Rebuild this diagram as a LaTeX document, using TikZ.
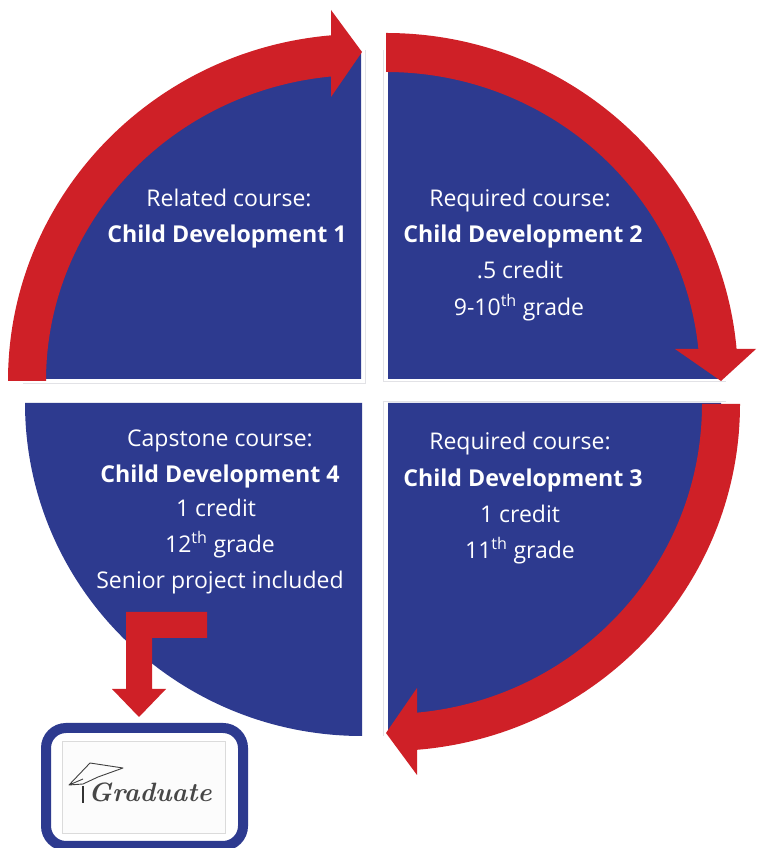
\documentclass[tikz,border=0pt]{standalone}
\usepackage{fontspec}
\setmainfont{Open Sans}
\newfontfamily\gradfont{Latin Modern Roman}
\definecolor{qblue}{RGB}{45,58,143}
\definecolor{qred}{RGB}{207,32,39}
\definecolor{hair}{RGB}{226,226,230}
\tikzset{
  quad/.style={fill=qblue},
  band/.style={fill=qred},
  lbl/.style={text=white,anchor=base,font=\fontsize{23}{26}\selectfont,inner sep=0pt},
  ttl/.style={text=white,anchor=base,font=\fontsize{23.2}{26}\selectfont\bfseries,inner sep=0pt},
  hairline/.style={draw=hair,line width=0.9pt},
}
\begin{document}
\begin{tikzpicture}[x=1pt,y=1pt]
\useasboundingbox (0,0) rectangle (756,848);
\fill[white] (0,0) rectangle (756,848);
% faint frames
\draw[hairline] (23,465) -- (365,465) -- (365,798);
\draw[hairline] (383,798) -- (383,467) -- (726,467);
\draw[hairline] (726,447) -- (383,447) -- (383,112);
% quadrants
\fill[quad] (361,469) -- (26,469) arc[start angle=180,end angle=90,x radius=335pt,y radius=328pt] -- cycle;
\fill[quad] (388,469) -- (388,797) arc[start angle=90,end angle=0,x radius=333pt,y radius=328pt] -- cycle;
\fill[quad] (388,445) -- (721,445) arc[start angle=0,end angle=-90,x radius=333pt,y radius=330pt] -- cycle;
\fill[quad] (362,445) -- (362,112) arc[start angle=270,end angle=180,x radius=337pt,y radius=333pt] -- cycle;
% top-left band + head
\fill[band] (8,467) arc[start angle=180,end angle=95.03,x radius=354pt,y radius=347pt]
  -- ({362+316*cos(95.63)},{467+306*sin(95.63)})
  arc[start angle=95.63,end angle=180,x radius=316pt,y radius=306pt] -- cycle;
\fill[band] (331,838) -- (362,796) -- (331,751) -- cycle;
% top-right band + head
\fill[band] (386,815) arc[start angle=90,end angle=5.13,x radius=352pt,y radius=347pt]
  -- ({386+314*cos(5.78)},{468+308*sin(5.78)})
  arc[start angle=5.78,end angle=90,x radius=314pt,y radius=308pt] -- cycle;
\fill[band] (675,499) -- (756,499) -- (721,467) -- cycle;
% bottom-right band + head
\fill[band] (740,444) arc[start angle=0,end angle=-85.27,x radius=352pt,y radius=347pt]
  -- ({388+314*cos(-84.7)},{444+310*sin(-84.7)})
  arc[start angle=-84.7,end angle=0,x radius=314pt,y radius=310pt] -- cycle;
\fill[band] (417,160) -- (386,115) -- (417,73) -- cycle;
% L arrow
\fill[band] (126,236) -- (207,236) -- (207,210) -- (152,210) -- (152,159) -- (166,159) -- (139,131) -- (112,159) -- (126,159) -- cycle;
% graduate box
\node[draw=qblue,line width=10pt,rounded corners=20pt,minimum width=197pt,minimum height=118pt,inner sep=0pt,fill=white] (gradbox) at (144.5,61) {};
\node[draw=black!14,line width=0.7pt,fill=black!1,minimum width=163pt,minimum height=92pt,inner sep=0pt] (gradimg) at (143.5,61) {};
\node[text=black!72,inner sep=0pt,font=\fontsize{26.5}{30}\selectfont\gradfont\bfseries\itshape] (gradtxt) at (150,56) {Graduate};
\draw[black!75,line width=0.9pt,line join=round] (83,69) -- (69,63) -- (90,85) -- (123,80) -- (98,71) -- (83,64) -- (69,63);
\draw[black!80,line width=1.2pt] (83,62) -- (83,45);
% texts: top left
\node[lbl] (tl1) at (229,641) {Related course:};
\node[ttl] (tl2) at (227,605) {Child Development 1};
% top right
\node[lbl] (tr1) at (520,641) {Required course:};
\node[ttl] (tr2) at (523,605) {Child Development 2};
\node[lbl] (tr3) at (520,569) {.5 credit};
\node[lbl] (tr4) at (519,532) {9-10\textsuperscript{th} grade};
% bottom right
\node[lbl] (br1) at (520,398) {Required course:};
\node[ttl] (br2) at (523,361) {Child Development 3};
\node[lbl] (br3) at (520,325) {1 credit};
\node[lbl] (br4) at (520,289) {11\textsuperscript{th} grade};
% bottom left
\node[lbl] (bl1) at (220,401) {Capstone course:};
\node[ttl] (bl2) at (220,365) {Child Development 4};
\node[lbl] (bl3) at (216,331) {1 credit};
\node[lbl] (bl4) at (220,295) {12\textsuperscript{th} grade};
\node[lbl] (bl5) at (220,259) {Senior project included};
\end{tikzpicture}
\end{document}
